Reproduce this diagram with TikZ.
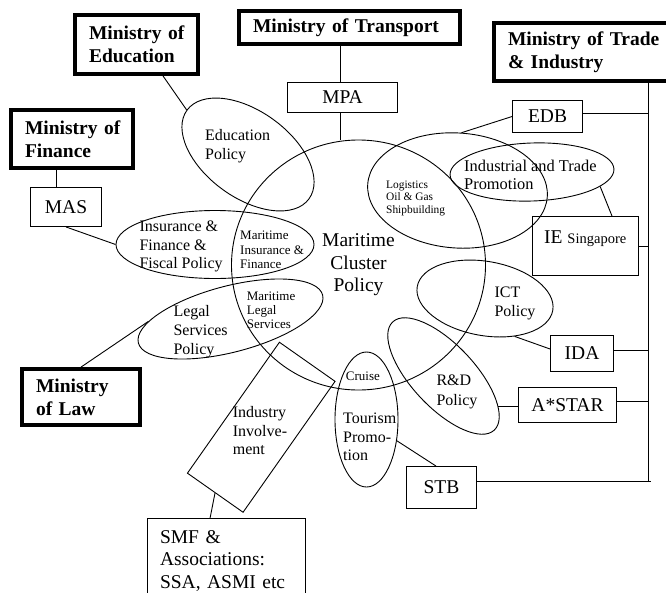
\documentclass[tikz,border=0pt]{standalone}
\usepackage{fontspec}
\setmainfont{Liberation Serif}
\usetikzlibrary{shapes.geometric}
\begin{document}
\begin{tikzpicture}[x=1pt,y=-1pt,
  ministry/.style={draw, line width=3.8pt, font=\fontsize{19.5}{23}\selectfont\bfseries, align=left, inner xsep=14pt, inner ysep=0pt},
  agency/.style={draw, line width=0.9pt, font=\fontsize{19.5}{23}\selectfont, inner sep=0pt},
  pol/.style={draw, ellipse, line width=0.9pt, inner sep=0pt},
  lbl/.style={inner sep=0pt, anchor=north west, align=left, font=\fontsize{16}{18.7}\selectfont},
  sml/.style={inner sep=0pt, anchor=north west, align=left, font=\fontsize{13}{14.5}\selectfont},
  conn/.style={line width=0.9pt}]
\useasboundingbox (0,0) rectangle (666,592);

% ministries
\node[ministry, text width=95pt, minimum height=59pt] (edu) at (136.5,44.5) {\mbox{Ministry of}\\Education};
\node[ministry, text width=193pt, minimum height=33pt] (tra) at (349.5,27.5) {Ministry of Transport};
\node[ministry, text width=156pt, minimum height=58pt] (mti) at (586,52) {Ministry of Trade\\\& Industry};
\node[ministry, text width=94pt, minimum height=58pt] (mof) at (72,139) {\mbox{Ministry of}\\Finance};
\node[ministry, text width=90pt, minimum height=56pt] (mol) at (81,397) {Ministry\\of Law};

% agencies
\node[agency, minimum width=110pt, minimum height=30pt] (mpa) at (342.5,97.5) {MPA};
\node[agency, minimum width=71pt, minimum height=39pt] (mas) at (66,207) {MAS};
\node[agency, minimum width=70pt, minimum height=32pt] (edb) at (547.5,116.5) {EDB};
\node[agency, minimum width=106pt, minimum height=59pt] (ie) at (585.5,246) {};
\node[agency, minimum width=63pt, minimum height=36pt] (ida) at (582,353.5) {IDA};
\node[agency, minimum width=98pt, minimum height=35pt] (astar) at (567.5,405) {A*STAR};
\node[agency, minimum width=70pt, minimum height=42pt] (stb) at (441.5,487.5) {STB};
\node[agency, anchor=north, minimum width=158pt, text width=133pt, inner xsep=12.5pt, inner ysep=11.5pt, align=left, font=\fontsize{19.5}{22.5}\selectfont] (smf) at (226.5,518.45) {SMF \&\\Associations:\\SSA, ASMI etc};

% policy ellipses
\node[pol, minimum width=150.8pt, minimum height=86.4pt, rotate=-36] (edupol) at (248,154.5) {};
\node[pol, minimum width=198pt, minimum height=68pt] (inspol) at (215,244.5) {};
\node[pol, minimum width=190.4pt, minimum height=66.2pt, rotate=14.6] (legal) at (230.5,319) {};
\node[pol, minimum width=254pt, minimum height=250pt, align=center, font=\fontsize{19.5}{22.5}\selectfont] (cluster) at (358.5,265) {Maritime\\Cluster\\Policy};
\node[pol, minimum width=180pt, minimum height=115pt, rotate=-4] (logi) at (457.5,190.5) {};
\node[pol, minimum width=164pt, minimum height=58pt, rotate=2] (indp) at (532,172) {};
\node[pol, minimum width=137.6pt, minimum height=74.2pt, rotate=-10] (ict) at (485,298.5) {};
\node[pol, minimum width=148.4pt, minimum height=63pt, rotate=-46.8] (rd) at (443.5,376) {};
\node[pol, minimum width=63pt, minimum height=135pt] (tour) at (366.5,419.5) {};

% industry involvement (tilted rectangle)
\node[draw, line width=0.9pt, rectangle, minimum width=160pt, minimum height=68pt, rotate=54.9, inner sep=0pt] (inv) at (261.25,427.25) {};

% labels
\node[lbl] (tEdu) at (205,129.3) {Education\\Policy};
\node[lbl, font=\fontsize{16}{18.5}\selectfont] (tIns) at (139.3,220.7) {Insurance \&\\Finance \&\\Fiscal Policy};
\node[sml] (tMIF) at (240,230.7) {Maritime\\Insurance \&\\Finance};
\node[sml, font=\fontsize{11.4}{12.5}\selectfont] (tLog) at (386,180.7) {Logistics\\Oil \& Gas\\Shipbuilding};
\node[lbl, font=\fontsize{16.4}{18}\selectfont] (tInd) at (464,160) {Industrial and Trade\\Promotion};
\node[sml, font=\fontsize{13}{14}\selectfont] (tMLS) at (246.7,291.7) {Maritime\\Legal\\Services};
\node[lbl, font=\fontsize{16}{19}\selectfont] (tLeg) at (173.3,305) {Legal\\Services\\Policy};
\node[lbl, font=\fontsize{16}{18.5}\selectfont] (tICT) at (494.3,286.7) {ICT\\Policy};
\node[sml] (tCru) at (345.7,371.7) {Cruise};
\node[lbl, font=\fontsize{16}{19.5}\selectfont] (tRD) at (436.3,375) {R\&D\\Policy};
\node[lbl] (tTou) at (343,412.7) {Tourism\\Promo-\\tion};
\node[lbl] (tInv) at (232.7,406) {Industry\\Involve-\\ment};
\node[inner sep=0pt, anchor=north west, font=\fontsize{19.5}{23}\selectfont] (tIE) at (544,230.7) {IE {\fontsize{14.5}{17}\selectfont Singapore}};

% connectors
\draw[conn] ([xshift=26.5pt]edu.south) -- (edupol.west);
\draw[conn] ([xshift=-2.5pt]mpa.north) -- ([xshift=-2.5pt]mpa.north |- tra.south);
\draw[conn] ([xshift=-2.5pt]mpa.south) -- ([xshift=-2.5pt]mpa.south |- cluster.north);
\draw[conn] ([xshift=-10pt]mas.north) -- ([xshift=-10pt]mas.north |- mof.south);
\draw[conn] (mas.south) -- (inspol.west);
\draw[conn] (mol.north) -- (legal.167);
\draw[conn] (edb.west) -- (logi.north);
\draw[conn] (indp.-14) -- ([xshift=26.5pt]ie.north);
\draw[conn] (ict.-42) -- ([yshift=4.5pt]ida.west);
\draw[conn] (rd.18) -- (rd.18 -| astar.west);
\draw[conn] (tour.-35) -- ([xshift=-5.5pt]stb.north);
\draw[conn] (inv.west) -- ([xshift=-16.5pt]smf.north);

% trade & industry bus
\coordinate (bus) at (648,481);
\draw[conn] (mti.south -| bus) -- (bus);
\draw[conn] ([yshift=3.5pt]edb.east) -- ([yshift=3.5pt]edb.east -| bus);
\draw[conn] (ie.east) -- (ie.east -| bus);
\draw[conn] ([yshift=3.5pt]ida.east) -- ([yshift=3.5pt]ida.east -| bus);
\draw[conn] ([yshift=4pt]astar.east) -- ([yshift=4pt]astar.east -| bus);
\draw[conn] ([yshift=6.5pt]stb.east) -- ([xshift=3pt]bus);
\end{tikzpicture}
\end{document}
